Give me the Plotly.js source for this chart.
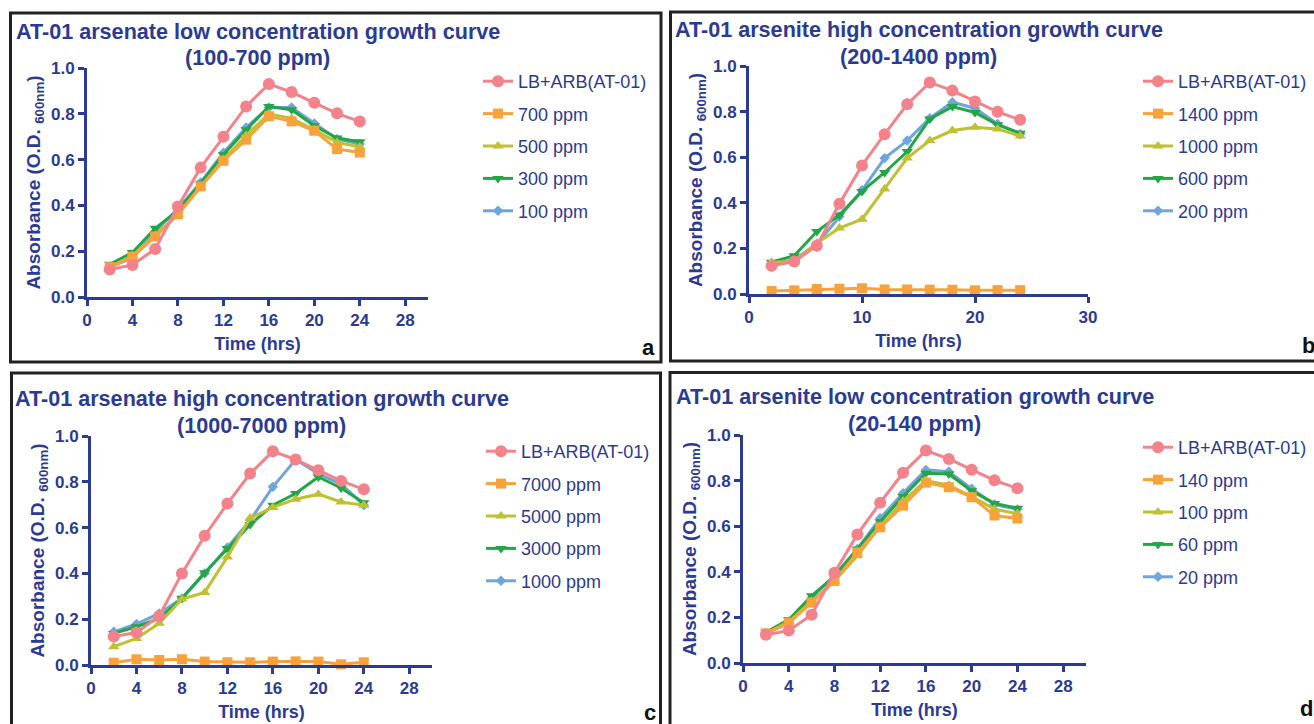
<!DOCTYPE html>
<html>
<head>
<meta charset="utf-8">
<script src="https://cdn.plot.ly/plotly-3.0.1.min.js"></script>
<style>html,body{margin:0;padding:0;background:#fff;}#chart{width:1314px;height:724px;}</style>
</head>
<body>
<div id="chart"></div>
<script>
// ---- data ----
const hours = [2, 4, 6, 8, 10, 12, 14, 16, 18, 20, 22, 24];

// a: arsenate low concentration
const a_labels = ["LB+ARB(AT-01)", "700 ppm", "500 ppm", "300 ppm", "100 ppm"];
const a_ctrl = [0.12, 0.14, 0.21, 0.395, 0.565, 0.70, 0.832, 0.93, 0.895, 0.848, 0.802, 0.766];
const a_700  = [0.13, 0.176, 0.264, 0.361, 0.483, 0.595, 0.687, 0.789, 0.767, 0.726, 0.646, 0.631];
const a_500  = [0.13, 0.18, 0.27, 0.36, 0.48, 0.60, 0.705, 0.80, 0.78, 0.73, 0.675, 0.655];
const a_300  = [0.143, 0.194, 0.30, 0.378, 0.497, 0.621, 0.73, 0.832, 0.818, 0.748, 0.694, 0.678];
const a_100  = [0.13, 0.17, 0.285, 0.385, 0.50, 0.63, 0.74, 0.828, 0.828, 0.758, 0.69, 0.668];

// b: arsenite high concentration
const b_labels = ["LB+ARB(AT-01)", "1400 ppm", "1000 ppm", "600 ppm", "200 ppm"];
const b_ctrl = [0.124, 0.142, 0.212, 0.396, 0.564, 0.701, 0.832, 0.928, 0.892, 0.844, 0.799, 0.764];
const b_1400 = [0.013, 0.016, 0.022, 0.023, 0.025, 0.02, 0.02, 0.019, 0.019, 0.016, 0.017, 0.017];
const b_1000 = [0.139, 0.143, 0.223, 0.289, 0.328, 0.46, 0.596, 0.673, 0.717, 0.731, 0.724, 0.693];
const b_600  = [0.139, 0.168, 0.274, 0.347, 0.45, 0.533, 0.625, 0.768, 0.822, 0.796, 0.742, 0.705];
const b_200  = [0.13, 0.15, 0.22, 0.34, 0.455, 0.596, 0.673, 0.771, 0.841, 0.815, 0.746, 0.702];

// c: arsenate high concentration
const c_labels = ["LB+ARB(AT-01)", "7000 ppm", "5000 ppm", "3000 ppm", "1000 ppm"];
const c_ctrl = [0.124, 0.142, 0.214, 0.40, 0.564, 0.705, 0.836, 0.933, 0.897, 0.85, 0.804, 0.767];
const c_7000 = [0.01, 0.025, 0.022, 0.025, 0.015, 0.012, 0.012, 0.015, 0.016, 0.015, 0.003, 0.012];
const c_5000 = [0.08, 0.116, 0.182, 0.288, 0.317, 0.472, 0.642, 0.688, 0.724, 0.746, 0.712, 0.698];
const c_3000 = [0.138, 0.167, 0.203, 0.291, 0.403, 0.509, 0.613, 0.698, 0.749, 0.821, 0.773, 0.708];
const c_1000 = [0.145, 0.179, 0.225, 0.291, 0.40, 0.513, 0.632, 0.778, 0.897, 0.835, 0.79, 0.698];

// d: arsenite low concentration
const d_labels = ["LB+ARB(AT-01)", "140 ppm", "100 ppm", "60 ppm", "20 ppm"];
const d_ctrl = [0.124, 0.142, 0.212, 0.396, 0.564, 0.703, 0.834, 0.932, 0.895, 0.848, 0.801, 0.766];
const d_140  = [0.13, 0.175, 0.265, 0.36, 0.485, 0.595, 0.69, 0.791, 0.771, 0.727, 0.647, 0.634];
const d_100  = [0.13, 0.18, 0.27, 0.36, 0.47, 0.60, 0.71, 0.80, 0.78, 0.73, 0.675, 0.655];
const d_60   = [0.135, 0.19, 0.295, 0.38, 0.50, 0.62, 0.73, 0.832, 0.829, 0.755, 0.70, 0.679];
const d_20   = [0.13, 0.175, 0.285, 0.385, 0.50, 0.635, 0.745, 0.847, 0.839, 0.764, 0.695, 0.674];

const panelTitles = [
  ["AT-01 arsenate low concentration growth curve", "(100-700 ppm)"],
  ["AT-01 arsenite high concentration growth curve", "(200-1400 ppm)"],
  ["AT-01 arsenate high concentration growth curve", "(1000-7000 ppm)"],
  ["AT-01 arsenite low concentration growth curve", "(20-140 ppm)"]
];
const panelLetters = ["a", "b", "c", "d"];
const xTicksA = [0, 4, 8, 12, 16, 20, 24, 28];
const xTicksB = [0, 10, 20, 30];
const yTicks = [0, 0.2, 0.4, 0.6, 0.8, 1.0];

// ---- styling ----
const W = 1314, H = 724;
const NAVY = "#2B3A93";
const FONT = "Liberation Sans, Arial, Helvetica, sans-serif";
const colors = ["#F4828A", "#F9A23C", "#BFC132", "#23A646", "#6EA5DA"];
const symbols = ["circle", "square", "triangle-up", "triangle-down", "diamond"];
const msizes = [12, 10, 10, 10, 8];

const px = v => v / W;
const py = v => 1 - v / H;

// plot area pixel boxes [left, right, top(y=1), bottom(y=0)]
const boxes = [
  [87, 428, 68, 297],
  [749, 1088, 66, 294],
  [91, 432, 436, 665],
  [743, 1086, 435, 663]
];
const legendPos = [[478, 63], [1138, 63], [481, 433], [1138, 429]];
const frames = [[10.5, 661, 13, 362], [670.5, 1330, 12, 361], [11.5, 660.5, 373, 740], [670, 1330, 372.5, 740]];
const letterPos = [[648, 347], [1308, 345], [650, 712], [1306, 708]];

const panels = [
  {labels: a_labels, series: [a_ctrl, a_700, a_500, a_300, a_100], ticks: xTicksA},
  {labels: b_labels, series: [b_ctrl, b_1400, b_1000, b_600, b_200], ticks: xTicksB},
  {labels: c_labels, series: [c_ctrl, c_7000, c_5000, c_3000, c_1000], ticks: xTicksA},
  {labels: d_labels, series: [d_ctrl, d_140, d_100, d_60, d_20], ticks: xTicksA}
];

const bold = s => "<b>" + s + "</b>";
const traces = [];
const layout = {
  width: W, height: H,
  margin: {l: 0, r: 0, t: 0, b: 0},
  paper_bgcolor: "#fff", plot_bgcolor: "rgba(0,0,0,0)",
  font: {family: FONT, color: NAVY},
  shapes: [], annotations: []
};

panels.forEach((p, i) => {
  const n = i + 1;
  const xa = n === 1 ? "xaxis" : "xaxis" + n;
  const ya = n === 1 ? "yaxis" : "yaxis" + n;
  const xr = n === 1 ? "x" : "x" + n;
  const yr = n === 1 ? "y" : "y" + n;
  const lg = n === 1 ? "legend" : "legend" + n;
  const b = boxes[i];

  // draw in reverse so the control line is on top; legendrank keeps legend order
  for (let k = p.series.length - 1; k >= 0; k--) {
    traces.push({
      type: "scatter", mode: "lines+markers",
      x: hours, y: p.series[k], name: p.labels[k],
      xaxis: xr, yaxis: yr, legend: lg, legendgroup: "p" + n + "s" + k,
      legendrank: 100 + k,
      line: {color: colors[k], width: 3},
      marker: {color: colors[k], symbol: symbols[k], size: msizes[k]},
      cliponaxis: false
    });
  }

  const axCommon = {
    showgrid: false, zeroline: false, showline: true,
    linecolor: NAVY, linewidth: 3,
    ticks: "outside", ticklen: 6, tickwidth: 3, tickcolor: NAVY,
    tickfont: {family: FONT, size: 17, color: NAVY},
    fixedrange: true
  };
  layout[xa] = Object.assign({}, axCommon, {
    domain: [px(b[0]), px(b[1])], anchor: yr,
    range: [0, 30], tickmode: "array", tickvals: p.ticks, ticktext: p.ticks.map(v => bold(String(v))),
    title: {text: bold("Time (hrs)"), font: {family: FONT, size: 18, color: NAVY}, standoff: 8},
    automargin: false
  });
  layout[ya] = Object.assign({}, axCommon, {
    domain: [py(b[3]), py(b[2])], anchor: xr,
    range: [0, 1.0], tickmode: "array", tickvals: yTicks, ticktext: yTicks.map(v => bold(v.toFixed(1))),
    title: {text: bold("Absorbance (O.D. <sub>600nm</sub>)"), font: {family: FONT, size: 19, color: NAVY}, standoff: 6},
    automargin: false
  });

  layout[lg] = {
    x: px(legendPos[i][0]), y: py(legendPos[i][1]),
    xanchor: "left", yanchor: "top",
    bgcolor: "rgba(0,0,0,0)", borderwidth: 0,
    font: {family: FONT, size: 18, color: NAVY},
    traceorder: "grouped", tracegroupgap: 6
  };

  const cx = (b[0] + b[1]) / 2;
  const tY = [[31, 58], [30, 56], [398, 425], [396, 423]][i];
  layout.annotations.push({
    xref: "paper", yref: "paper", x: px(cx), y: py(tY[0]), xanchor: "center", yanchor: "middle",
    text: bold(panelTitles[i][0]), showarrow: false,
    font: {family: FONT, size: 21.6, color: NAVY}
  });
  layout.annotations.push({
    xref: "paper", yref: "paper", x: px(cx), y: py(tY[1]), xanchor: "center", yanchor: "middle",
    text: bold(panelTitles[i][1]), showarrow: false,
    font: {family: FONT, size: 21.6, color: NAVY}
  });
  layout.annotations.push({
    xref: "paper", yref: "paper", x: px(letterPos[i][0]), y: py(letterPos[i][1]), xanchor: "center", yanchor: "middle",
    text: bold(panelLetters[i]), showarrow: false,
    font: {family: FONT, size: 22, color: "#111"}
  });
  const f = frames[i];
  layout.shapes.push({
    type: "rect", xref: "paper", yref: "paper",
    x0: px(f[0]), x1: px(f[1]), y0: py(f[3]), y1: py(f[2]),
    line: {color: "#222", width: 3}, fillcolor: "rgba(0,0,0,0)", layer: "below"
  });
});

Plotly.newPlot("chart", traces, layout, {displayModeBar: false, staticPlot: true});
</script>
</body>
</html>
